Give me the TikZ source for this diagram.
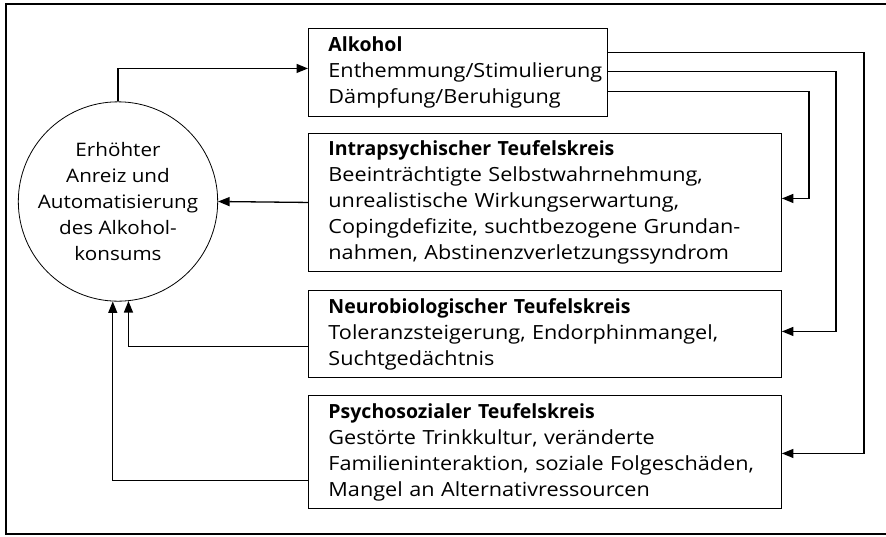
\documentclass[tikz,border=0pt]{standalone}
\usepackage{fontspec}
\setmainfont{Open Sans}[FakeStretch=1.11]
\newfontfamily\hdfont{Open Sans}
\newcommand{\hd}[1]{{\hdfont\bfseries #1}}
\usetikzlibrary{arrows.meta}
\tikzset{
  box/.style={draw, line width=0.9pt, rectangle, anchor=north west, align=left, inner xsep=20pt, inner ysep=0pt, font=\fontsize{19.5}{26}\selectfont},
  conn/.style={line width=1.3pt, -{Triangle[length=11.5pt,width=9pt]}},
}
\begin{document}
\begin{tikzpicture}[x=1pt,y=-1pt]
\useasboundingbox (0,0) rectangle (886,536);
\begin{scope}
\clip (0,0) rectangle (886,536);
\draw[line width=2pt] (900,4) -- (6,4) -- (6,534) -- (900,534);
\end{scope}
\node[draw, circle, line width=0.8pt, minimum size=178pt, inner sep=0pt, align=center, font=\fontsize{18.6}{26}\selectfont] (circ) at (118,201.5) {Erhöhter\\Anreiz und\\Automatisierung\\des Alkohol-\\konsums};
\node[box, minimum width=299pt, minimum height=88pt, text width=259pt] (alk) at (308,28) {\hd{Alkohol}\\Enthemmung/Stimulierung\\Dämpfung/Beruhigung};
\node[box, minimum width=473pt, minimum height=138pt, text width=433pt] (intra) at (308,133) {\hd{Intrapsychischer Teufelskreis}\\Beeinträchtigte Selbstwahrnehmung,\\unrealistische Wirkungserwartung,\\Copingdefizite, suchtbezogene Grundan-\\nahmen, Abstinenzverletzungssyndrom};
\node[box, minimum width=473pt, minimum height=87pt, text width=433pt] (neuro) at (308,290) {\hd{Neurobiologischer Teufelskreis}\\Toleranzsteigerung, Endorphinmangel,\\Suchtgedächtnis};
\node[box, minimum width=473pt, minimum height=113pt, text width=433pt] (psy) at (308,395) {\hd{Psychosozialer Teufelskreis}\\Gestörte Trinkkultur, veränderte\\Familieninteraktion, soziale Folgeschäden,\\Mangel an Alternativressourcen};
\draw[conn] (circ.north) |- ([yshift=4pt]alk.west);
\draw[conn] (intra.west) -- (circ.east);
\draw[conn] ([yshift=-12.5pt]neuro.west) -| (circ.-84);
\draw[conn] ([yshift=-28.5pt]psy.west) -| (circ.-93);
\draw[conn] ([yshift=20pt]alk.east) -- ++(256,0) |- ([yshift=-1.5pt]psy.east);
\draw[conn] ([yshift=1pt]alk.east) -- ++(228,0) |- ([yshift=2.5pt]neuro.east);
\draw[conn] ([yshift=-19pt]alk.east) -- ++(201,0) |- ([yshift=4pt]intra.east);
\end{tikzpicture}
\end{document}
